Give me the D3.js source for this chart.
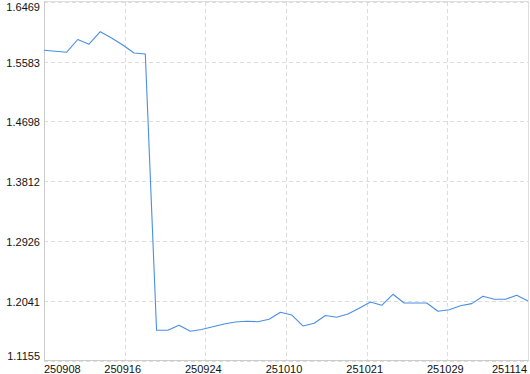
<!DOCTYPE html>
<html><head><meta charset="utf-8">
<script src="https://cdn.jsdelivr.net/npm/d3@7"></script>
<style>
html,body{margin:0;padding:0;background:#fff;}
svg{display:block;}
text{font-family:"Liberation Sans",Arial,sans-serif;font-size:11px;fill:#111;}
</style></head>
<body>
<svg id="chart" width="530" height="374"></svg>
<script>
const values = [
  1.5751, 1.5737, 1.5722, 1.5911, 1.5842, 1.6027, 1.5933, 1.5830, 1.5711, 1.5697,
  1.1608, 1.1608, 1.1682, 1.1593, 1.1620, 1.1660, 1.1701, 1.1731, 1.1741, 1.1735,
  1.1771, 1.1874, 1.1835, 1.1672, 1.1713, 1.1827, 1.1801, 1.1849, 1.1934, 1.2027,
  1.1978, 1.2141, 1.2012, 1.2012, 1.2012, 1.1889, 1.1913, 1.1972, 1.2002, 1.2111,
  1.2067, 1.2067, 1.2126, 1.2042
];
const xTickLabels = ["250908","250916","250924","251010","251021","251029","251114"];
const yTickLabels = ["1.1155","1.2041","1.2926","1.3812","1.4698","1.5583","1.6469"];

(function () {
const svg = d3.select("#chart");
const pLeft = 44, pRight = 528, pTop = 1.8, pBottom = 360.9;

const x = d3.scaleLinear().domain([0, values.length - 1]).range([pLeft, pRight]);
const yTicks = yTickLabels.map(Number);
const y = d3.scaleLinear().domain([yTicks[0], yTicks[yTicks.length - 1]]).range([pBottom, pTop]);

const xTickPos = xTickLabels.map((d, i) => (values.length - 1) * i / (xTickLabels.length - 1));

const grid = svg.append("g");
grid.selectAll("line.h").data(yTicks).join("line")
  .attr("x1", pLeft).attr("x2", pRight)
  .attr("y1", d => Math.round(y(d)) + 0.5).attr("y2", d => Math.round(y(d)) + 0.5)
  .attr("stroke", "#dcdcdc").attr("stroke-dasharray", "4,3").attr("shape-rendering", "crispEdges");
grid.selectAll("line.v").data(xTickPos).join("line")
  .attr("x1", d => Math.round(x(d)) + 0.5).attr("x2", d => Math.round(x(d)) + 0.5)
  .attr("y1", pTop).attr("y2", pBottom)
  .attr("stroke", "#dcdcdc").attr("stroke-dasharray", "4,3").attr("shape-rendering", "crispEdges");

svg.append("rect").attr("x", pLeft + 0.5).attr("y", 1.5)
  .attr("width", pRight - pLeft).attr("height", 359)
  .attr("fill", "none").attr("stroke", "#dddddd").attr("shape-rendering", "crispEdges");
svg.append("line").attr("x1", pLeft + 0.5).attr("x2", pLeft + 0.5).attr("y1", 1).attr("y2", 361)
  .attr("stroke", "#cccccc").attr("shape-rendering", "crispEdges");
svg.append("line").attr("x1", pLeft).attr("x2", pRight + 1).attr("y1", 360.5).attr("y2", 360.5)
  .attr("stroke", "#cccccc").attr("shape-rendering", "crispEdges");

svg.append("g").selectAll("text").data(yTickLabels).join("text")
  .attr("x", 40)
  .attr("y", d => Math.min(360, Math.max(11, y(+d) + 5)))
  .attr("text-anchor", "end")
  .text(d => d);

svg.append("g").selectAll("text").data(xTickLabels).join("text")
  .attr("x", (d, i) => {
    const px = x(xTickPos[i]);
    if (i === 0) return pLeft;
    if (i === xTickLabels.length - 1) return pRight - 1;
    return px - 2;
  })
  .attr("y", 373)
  .attr("text-anchor", (d, i) => i === 0 ? "start" : (i === xTickLabels.length - 1 ? "end" : "middle"))
  .text(d => d);

const line = d3.line().x((d, i) => x(i)).y(d => y(d));
svg.append("path").datum(values)
  .attr("d", line)
  .attr("fill", "none")
  .attr("stroke", "#4a8fe3")
  .attr("stroke-width", 1.1)
  .attr("stroke-linejoin", "round");
})();
</script>
</body></html>
